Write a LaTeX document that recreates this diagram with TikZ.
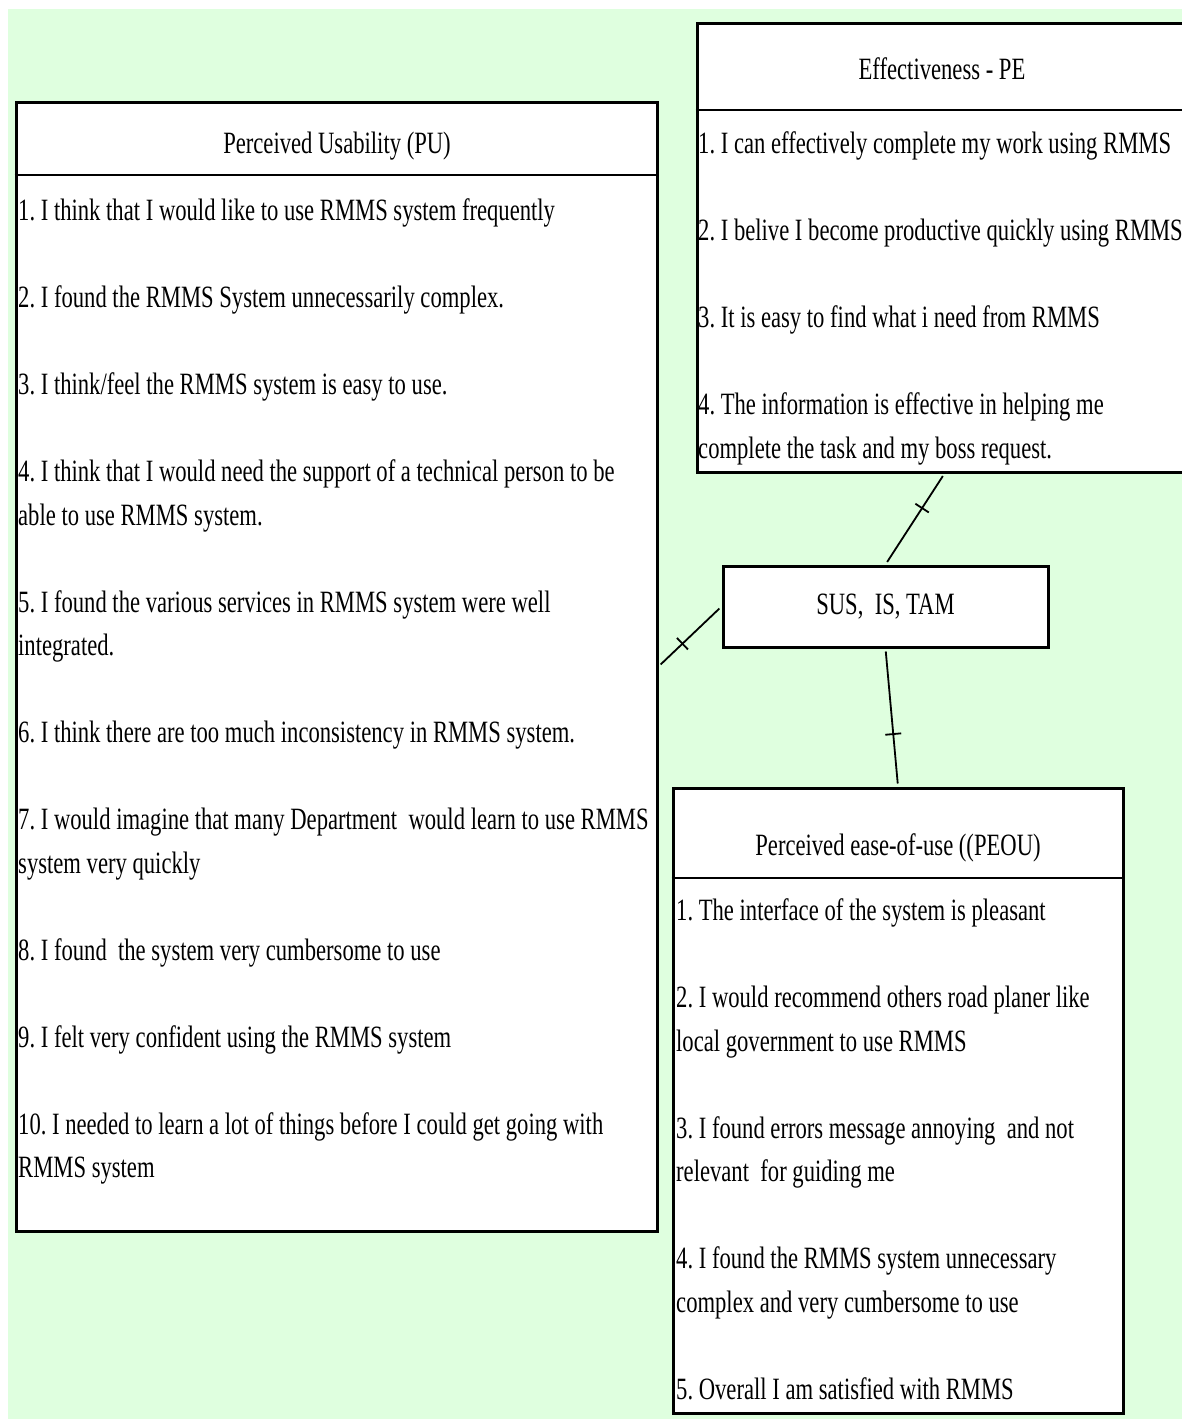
\documentclass[tikz,border=0pt]{standalone}
\usepackage{fontspec}
\setmainfont[FakeStretch=0.73]{Liberation Serif}
\usetikzlibrary{decorations.markings}
\definecolor{bggreen}{RGB}{223,255,223}
\newcommand{\skipgap}{\\[43.5pt]}
\newcommand{\liststart}{\spaceskip=0pt\xspaceskip=0pt\rule{0pt}{30pt}}
\frenchspacing

\begin{document}
\begin{tikzpicture}
    [x=1pt,y=-1pt,
     box/.style={draw, line width=3pt, fill=white, inner sep=0pt},
     title/.style={font=\fontsize{31}{43.5}\selectfont, inner sep=0pt, anchor=base},
     items/.style={font=\fontsize{31}{43.5}\selectfont, inner sep=0pt, anchor=north west, text width=800pt, align=left},
     link/.style={line width=1.8pt, shorten <=3pt, shorten >=3pt, postaction={decorate},
       decoration={markings, mark=at position 0.62 with {\draw[line width=1.8pt] (0,-11pt) -- (0,11pt);}}}]
    \useasboundingbox (0,0) rectangle (1182,1419);
    \clip (0,0) rectangle (1182,1419);
    \fill[bggreen] (8,9) rectangle (1182,1419);

    \node[box, minimum width=641, minimum height=1129] (pu) at (336.5,666.5) {};
    \node[box, minimum width=495, minimum height=449] (pe) at (944.5,247.5) {};
    \node[box, minimum width=450, minimum height=625] (peou) at (898,1100.5) {};
    \node[box, minimum width=325, minimum height=81, font=\fontsize{31}{43.5}\selectfont] (sus) at (885.5,606.5) {SUS,\ \ IS, TAM};

    \draw[line width=2.6pt] (pu.west |- 0,175) -- (pu.east |- 0,175);
    \draw[line width=2.6pt] (pe.west |- 0,110) -- (pe.east |- 0,110);
    \draw[line width=2.6pt] (peou.west |- 0,878) -- (peou.east |- 0,878);

    \node[title] (putitle) at (337,153) {Perceived Usability (PU)};
    \node[title] (petitle) at (942,79) {Effectiveness - PE};
    \node[title] (peoutitle) at (898,855) {Perceived ease-of-use ((PEOU)};

    \node[items] (pulist) at (18,190.5) {\liststart1. I think that I would like to use RMMS system frequently\skipgap
      2. I found the RMMS System unnecessarily complex.\skipgap
      3. I think/feel the RMMS system is easy to use.\skipgap
      4. I think that I would need the support of a technical person to be\\
      able to use RMMS system.\skipgap
      5. I found the various services in RMMS system were well\\
      integrated.\skipgap
      6. I think there are too much inconsistency in RMMS system.\skipgap
      7. I would imagine that many Department\ \ would learn to use RMMS\\
      system very quickly\skipgap
      8. I found\ \ the system very cumbersome to use\skipgap
      9. I felt very confident using the RMMS system\skipgap
      10. I needed to learn a lot of things before I could get going with\\
      RMMS system};
    \node[items] (pelist) at (698,123.5) {\liststart1. I can effectively complete my work using RMMS\skipgap
      2. I belive I become productive quickly using RMMS\skipgap
      3. It is easy to find what i need from RMMS\skipgap
      4. The information is effective in helping me\\
      complete the task and my boss request.};
    \node[items] (peoulist) at (676,890.5) {\liststart1. The interface of the system is pleasant\skipgap
      2. I would recommend others road planer like\\
      local government to use RMMS\skipgap
      3. I found errors message annoying\ \ and not\\
      relevant\ \ for guiding me\skipgap
      4. I found the RMMS system unnecessary\\
      complex and very cumbersome to use\skipgap
      5. Overall I am satisfied with RMMS};

    \foreach \from/\to in {sus.north/pe.south, sus.west/pu.east, sus.south/peou.north}
    \draw[link] (\from) -- (\to);
  \end{tikzpicture}
\end{document}
